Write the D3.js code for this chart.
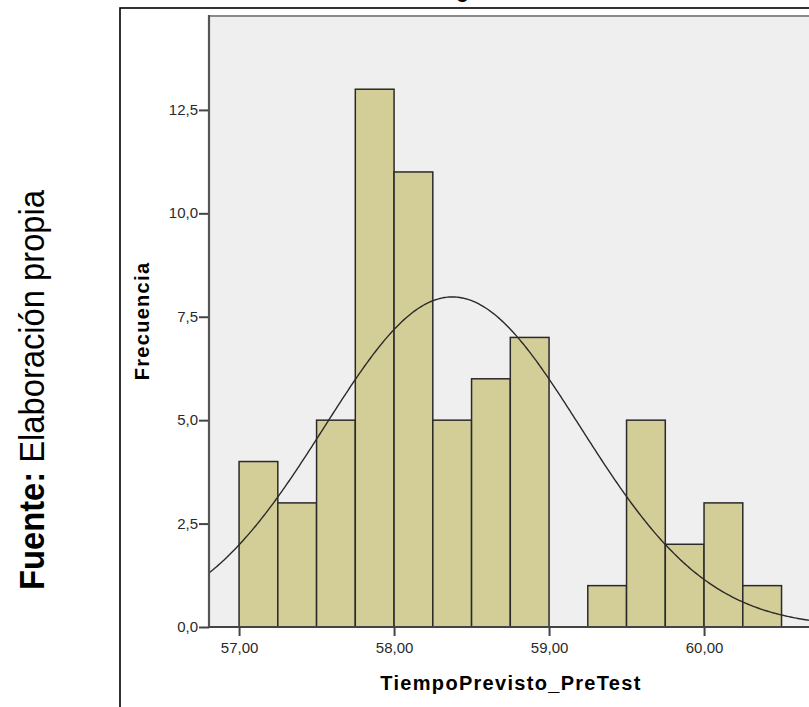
<!DOCTYPE html>
<html>
<head>
<meta charset="utf-8">
<script src="https://cdn.jsdelivr.net/npm/d3@7"></script>
<style>
  html, body { margin: 0; padding: 0; background: #ffffff; overflow: hidden; }
  svg { display: block; }
</style>
</head>
<body>
<svg id="chart" width="809" height="707"></svg>
<script>
// ---- data ----
const binStarts = [57.00, 57.25, 57.50, 57.75, 58.00, 58.25, 58.50, 58.75, 59.00, 59.25, 59.50, 59.75, 60.00, 60.25];
const counts    = [4, 3, 5, 13, 11, 5, 6, 7, 0, 1, 5, 2, 3, 1];
const binWidth  = 0.25;
const yTicks = [0, 2.5, 5, 7.5, 10, 12.5];
const xTicks = [57, 58, 59, 60];
const normalMean = 58.376;
const normalSd   = 0.825;
const titleText  = "Histograma";
const xTitle = "TiempoPrevisto_PreTest";
const yTitle = "Frecuencia";
const sourceBold = "Fuente:";
const sourceText = " Elaboración propia";

// ---- layout ----
const svg = d3.select("#chart");
const plotL = 209, plotR = 813, plotT = 16, plotB = 627;

const x = d3.scaleLinear().domain([56.806, 60.703]).range([plotL, plotR]);
const y = d3.scaleLinear().domain([0, 14.77]).range([plotB, plotT]);

const fmtY = v => d3.format(".1f")(v).replace(".", ",");
const fmtX = v => d3.format(".2f")(v).replace(".", ",");

// outer frame
svg.append("rect").attr("x", 120).attr("y", 8).attr("width", 900).attr("height", 900)
  .attr("fill", "#ffffff").attr("stroke", "#000").attr("stroke-width", 1.6);

// title (cut off at the top, as in the reference)
svg.append("text").attr("x", 400).attr("y", -2)
  .attr("font-family", "Liberation Sans, Arial, sans-serif").attr("font-weight", "bold")
  .attr("font-size", 20).attr("letter-spacing", 1.3).attr("fill", "#000").text(titleText);

// plot background
svg.append("rect").attr("x", plotL).attr("y", plotT).attr("width", plotR - plotL + 20).attr("height", plotB - plotT)
  .attr("fill", "#efefef");
svg.append("line").attr("x1", plotL).attr("x2", 809).attr("y1", plotT).attr("y2", plotT)
  .attr("stroke", "#8a8a8a").attr("stroke-width", 2);

// bars
const bars = binStarts.map((s, i) => ({ s, c: counts[i] })).filter(d => d.c > 0);
svg.append("g").selectAll("rect").data(bars).join("rect")
  .attr("x", d => x(d.s))
  .attr("y", d => y(d.c))
  .attr("width", d => x(d.s + binWidth) - x(d.s))
  .attr("height", d => y(0) - y(d.c))
  .attr("fill", "#d3ce97")
  .attr("stroke", "#2a2a2a")
  .attr("stroke-width", 1.5);

// normal curve
const N = d3.sum(counts);
const dens = v => N * binWidth / (normalSd * Math.sqrt(2 * Math.PI)) * Math.exp(-0.5 * Math.pow((v - normalMean) / normalSd, 2));
const xs = d3.range(0, 401).map(i => x.domain()[0] + (x.domain()[1] - x.domain()[0]) * i / 400);
svg.append("path").datum(xs)
  .attr("d", d3.line().x(v => x(v)).y(v => y(dens(v))))
  .attr("fill", "none").attr("stroke", "#2a2a2a").attr("stroke-width", 1.4);

// y axis
const yAxis = svg.append("g").attr("transform", `translate(${plotL},0)`)
  .call(d3.axisLeft(y).tickValues(yTicks).tickFormat(fmtY).tickSize(10).tickPadding(1));
yAxis.select(".domain").remove();
yAxis.selectAll(".tick line").attr("stroke", "#444").attr("stroke-width", 2);
yAxis.selectAll(".tick text").attr("font-family", "Liberation Sans, Arial, sans-serif")
  .attr("font-size", 15).attr("fill", "#2a2a2a").attr("dy", "0.3em");
svg.append("line").attr("x1", plotL).attr("x2", plotL).attr("y1", plotT - 1).attr("y2", plotB)
  .attr("stroke", "#555").attr("stroke-width", 2.2);

// x axis
const xAxis = svg.append("g").attr("transform", `translate(0,${plotB})`)
  .call(d3.axisBottom(x).tickValues(xTicks).tickFormat(fmtX).tickSize(9).tickPadding(6));
xAxis.select(".domain").remove();
xAxis.selectAll(".tick line").attr("stroke", "#444").attr("stroke-width", 2);
xAxis.selectAll(".tick text").attr("font-family", "Liberation Sans, Arial, sans-serif")
  .attr("font-size", 15).attr("fill", "#2a2a2a");
svg.append("line").attr("x1", plotL).attr("x2", 809).attr("y1", plotB).attr("y2", plotB)
  .attr("stroke", "#444").attr("stroke-width", 2);

// axis titles
svg.append("text").attr("x", 511).attr("y", 690).attr("text-anchor", "middle")
  .attr("font-family", "Liberation Sans, Arial, sans-serif").attr("font-weight", "bold")
  .attr("font-size", 20).attr("letter-spacing", 1.3).attr("fill", "#000").text(xTitle);
svg.append("text").attr("transform", "translate(149,321) rotate(-90)").attr("text-anchor", "middle")
  .attr("font-family", "Liberation Sans, Arial, sans-serif").attr("font-weight", "bold")
  .attr("font-size", 20).attr("letter-spacing", 1.3).attr("fill", "#000").text(yTitle);

// source note
const src = svg.append("text").attr("transform", "translate(44,390) rotate(-90)").attr("text-anchor", "middle")
  .attr("font-family", "Liberation Sans, Arial, sans-serif").attr("font-size", 35).attr("fill", "#000")
  .attr("textLength", 400).attr("lengthAdjust", "spacingAndGlyphs");
src.append("tspan").attr("font-weight", "bold").text(sourceBold);
src.append("tspan").text(sourceText);
</script>
</body>
</html>
